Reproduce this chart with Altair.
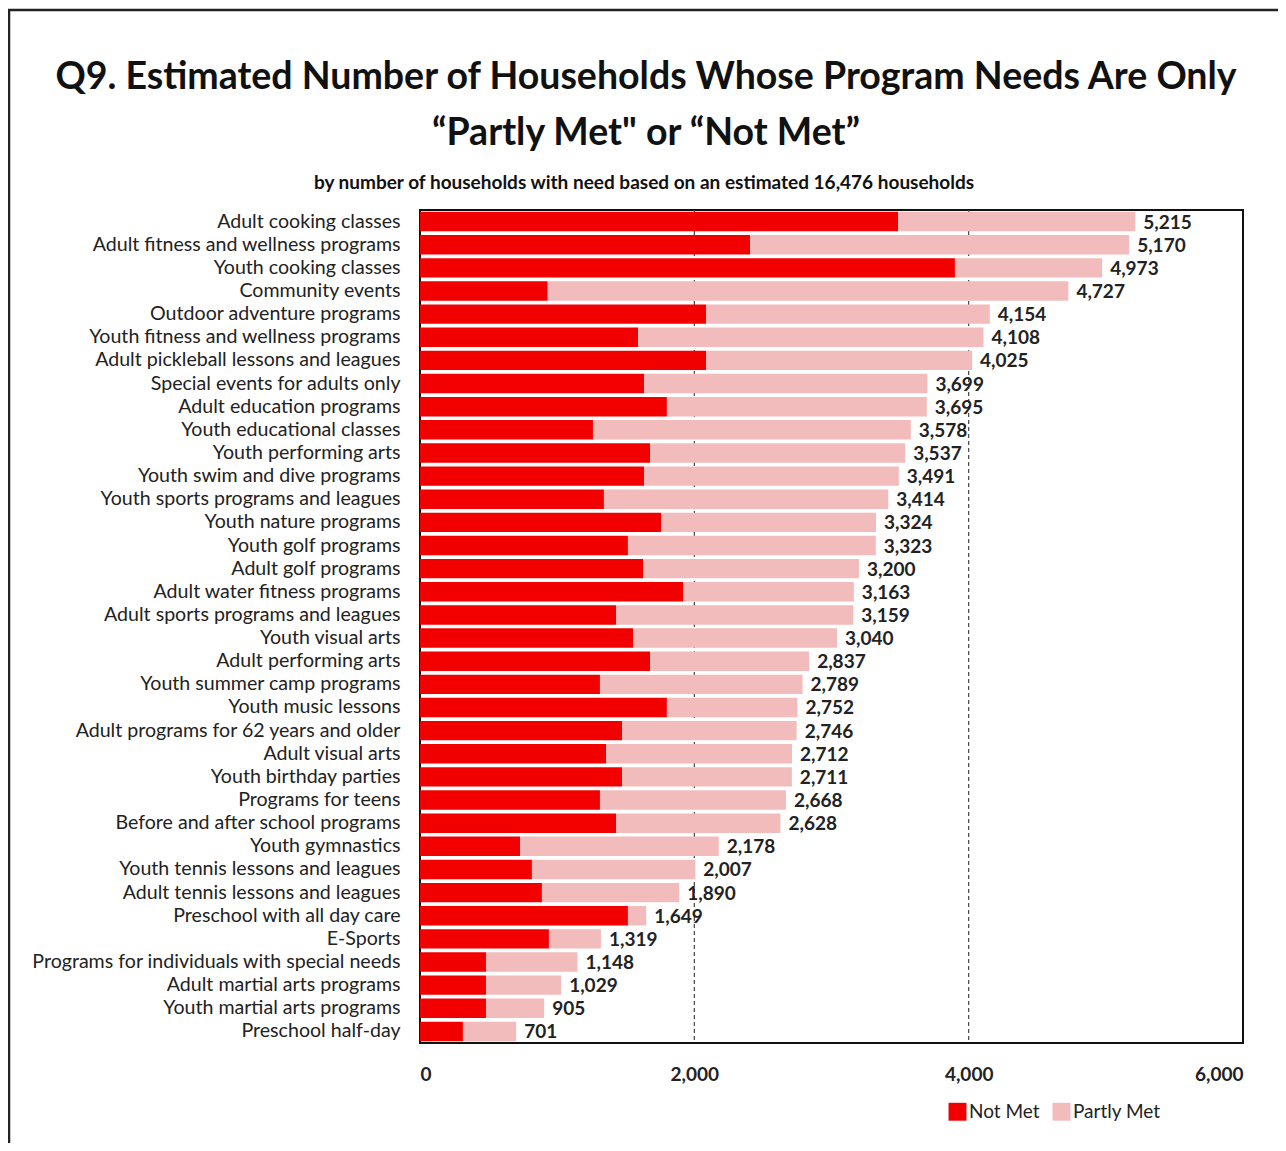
import altair as alt
import pandas as pd

categories = [
    "Adult cooking classes", "Adult fitness and wellness programs", "Youth cooking classes",
    "Community events", "Outdoor adventure programs", "Youth fitness and wellness programs",
    "Adult pickleball lessons and leagues", "Special events for adults only",
    "Adult education programs", "Youth educational classes", "Youth performing arts",
    "Youth swim and dive programs", "Youth sports programs and leagues", "Youth nature programs",
    "Youth golf programs", "Adult golf programs", "Adult water fitness programs",
    "Adult sports programs and leagues", "Youth visual arts", "Adult performing arts",
    "Youth summer camp programs", "Youth music lessons", "Adult programs for 62 years and older",
    "Adult visual arts", "Youth birthday parties", "Programs for teens",
    "Before and after school programs", "Youth gymnastics", "Youth tennis lessons and leagues",
    "Adult tennis lessons and leagues", "Preschool with all day care", "E-Sports",
    "Programs for individuals with special needs", "Adult martial arts programs",
    "Youth martial arts programs", "Preschool half-day",
]
totals = [5215, 5170, 4973, 4727, 4154, 4108, 4025, 3699, 3695, 3578, 3537, 3491, 3414,
          3324, 3323, 3200, 3163, 3159, 3040, 2837, 2789, 2752, 2746, 2712, 2711, 2668,
          2628, 2178, 2007, 1890, 1649, 1319, 1148, 1029, 905, 701]
not_met = [3485, 2406, 3900, 931, 2085, 1590, 2085, 1633, 1800, 1261, 1677, 1633, 1341,
           1757, 1516, 1626, 1920, 1429, 1553, 1677, 1312, 1800, 1473, 1356, 1473, 1312,
           1429, 729, 816, 889, 1516, 940, 481, 481, 481, 313]
series = ["Not Met", "Partly Met"]
colors = ["#F20000", "#F3BCBC"]
x_ticks = [0, 2000, 4000, 6000]
grid_values = [2000, 4000]
title_line1 = "Q9. Estimated Number of Households Whose Program Needs Are Only"
title_line2 = "\u201cPartly Met\" or \u201cNot Met\u201d"
subtitle = "by number of households with need based on an estimated 16,476 households"

FONT = "Lato, Open Sans, sans-serif"

rows = []
for i, c in enumerate(categories):
    nm = not_met[i]
    pm = totals[i] - nm
    rows.append({"cat": c, "series": "Not Met", "start": 0, "end": nm, "order": 0})
    rows.append({"cat": c, "series": "Partly Met", "start": nm, "end": nm + pm, "order": 1})
df = pd.DataFrame(rows)
tot_df = pd.DataFrame({"cat": categories, "total": totals,
                       "label": [f"{t:,}" for t in totals]})
grid_df = pd.DataFrame({"g": grid_values})
one = pd.DataFrame({"k": [0]})

xscale = alt.Scale(domain=[0, 6000], nice=False)
ysort = categories

frame = alt.Chart(one).mark_rect(fill=None, stroke="#222222", strokeWidth=2.5).encode(
    x=alt.value(-411), x2=alt.value(861), y=alt.value(-200), y2=alt.value(960)
)

t1 = alt.Chart(one).mark_text(font=FONT, fontSize=37.5, fontWeight="bold", color="#111111",
                              align="center", baseline="middle").encode(
    x=alt.value(226), y=alt.value(-132), text=alt.value(title_line1))
t2 = alt.Chart(one).mark_text(font=FONT, fontSize=37.5, fontWeight="bold", color="#111111",
                              align="center", baseline="middle").encode(
    x=alt.value(226), y=alt.value(-76), text=alt.value(title_line2))
t3 = alt.Chart(one).mark_text(font=FONT, fontSize=19, fontWeight="bold", color="#111111",
                              align="center", baseline="middle").encode(
    x=alt.value(224), y=alt.value(-27), text=alt.value(subtitle))

grid = alt.Chart(grid_df).mark_rule(color="#444444", strokeDash=[4, 3], strokeWidth=1.2).encode(
    x=alt.X("g:Q", scale=xscale)
)

bars = alt.Chart(df).mark_bar().encode(
    y=alt.Y("cat:N", sort=ysort, title=None,
            scale=alt.Scale(paddingInner=0.16, paddingOuter=0.08),
            axis=alt.Axis(labelFont=FONT, labelFontSize=19.6, labelColor="#222222",
                          labelPadding=20, ticks=False, domain=False, labelLimit=420)),
    x=alt.X("start:Q", scale=xscale, title=None,
            axis=alt.Axis(values=x_ticks, format=",.0f", labelFont=FONT, labelFontSize=19,
                          labelFontWeight="bold", labelColor="#222222", labelPadding=22,
                          ticks=False, domain=False, grid=False)),
    x2="end:Q",
    color=alt.Color("series:N", scale=alt.Scale(domain=series, range=colors),
                    legend=alt.Legend(title=None, orient="none", legendX=528, legendY=892,
                                      direction="horizontal", symbolType="square",
                                      symbolSize=320, symbolStrokeWidth=0,
                                      labelFont=FONT, labelFontSize=19, labelColor="#222222",
                                      columnPadding=12, labelOffset=2)),
    order="order:Q",
)

labels = alt.Chart(tot_df).mark_text(align="left", baseline="middle", dx=8, dy=1,
                                     font=FONT, fontSize=19, fontWeight="bold",
                                     color="#222222").encode(
    y=alt.Y("cat:N", sort=ysort),
    x=alt.X("total:Q", scale=xscale),
    text="label:N",
)

chart = alt.layer(frame, t1, t2, t3, grid, bars, labels).properties(
    width=823, height=833,
    autosize=alt.AutoSizeParams(type="none"),
    padding={"left": 412, "top": 202, "right": 35, "bottom": 100},
).configure(background="white").configure_view(stroke="#111111", strokeWidth=2)

chart.save("out.html", embed_options={"renderer": "svg", "actions": False})
